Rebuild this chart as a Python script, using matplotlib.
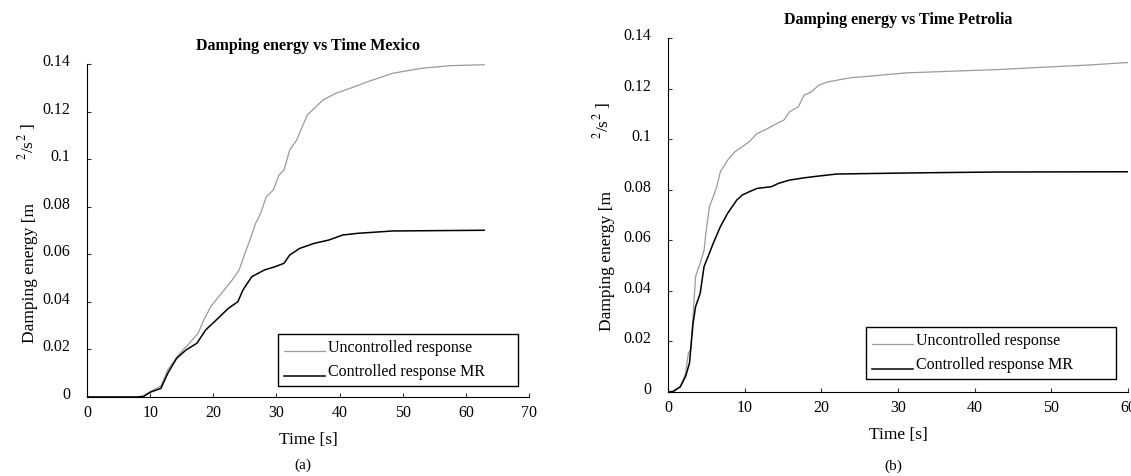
import matplotlib
matplotlib.use("Agg")
import matplotlib.pyplot as plt
import matplotlib.transforms as mtransforms
from matplotlib.legend_handler import HandlerLine2D
import numpy as np

plt.rcParams['font.family'] = ['Liberation Serif', 'DejaVu Serif']
plt.rcParams['mathtext.fontset'] = 'stix'

# Mexico record
t_mex_unc = [0, 5, 8, 9, 10.0, 11.7, 12.8, 14.5, 16.2, 17.6, 18.5, 19.6, 21.3, 23.0, 24.1, 25.0,
             25.8, 26.7, 27.5, 28.4, 29.5, 30.4, 31.2, 32.1, 33.2, 34.0, 34.9, 36.0,
             37.4, 39.4, 41.7, 44.5, 48.4, 53.0, 57.5, 62.9]
e_mex_unc = [0, 0, 0, 0.0004, 0.0022, 0.0046, 0.0114, 0.0177, 0.0226, 0.0268, 0.0324, 0.038,
             0.0436, 0.0492, 0.0534, 0.0604, 0.066, 0.073, 0.0772, 0.0842, 0.087, 0.0933,
             0.0954, 0.1038, 0.108, 0.113, 0.1186, 0.1214, 0.1249, 0.1277, 0.1298, 0.1326,
             0.1361, 0.1382, 0.1393, 0.1397]
t_mex_mr = [0, 5, 8, 9, 10.0, 11.7, 12.8, 14.2, 15.7, 17.4, 18.8, 20.2, 22.4, 23.9, 24.7, 26.1,
            28.1, 29.8, 31.2, 32.1, 33.7, 36.0, 38.3, 40.5, 42.8, 48.4, 62.9]
e_mex_mr = [0, 0, 0, 0.0003, 0.002, 0.0036, 0.010, 0.0163, 0.0198, 0.0226, 0.0282, 0.0317,
            0.0373, 0.0401, 0.045, 0.0506, 0.0534, 0.0548, 0.0562, 0.0597, 0.0625, 0.0646,
            0.066, 0.0681, 0.0688, 0.0698, 0.0701]

# Petrolia record
t_pet_unc = [0, 0.66, 1.6, 2.3, 2.66, 2.94, 3.27, 3.6, 4.2, 4.7, 4.94, 5.4, 5.9, 6.36, 6.83,
             7.78, 8.73, 9.68, 10.6, 11.6, 13.0, 14.2, 15.1, 15.85, 17.0, 17.75, 18.7,
             19.65, 20.8, 22.0, 23.9, 26.3, 31.0, 38.2, 42.9, 50.0, 54.8, 60]
e_pet_unc = [0, 0.0003, 0.0022, 0.0075, 0.0154, 0.0167, 0.030, 0.0457, 0.051, 0.056, 0.0628,
             0.0733, 0.0772, 0.0812, 0.0871, 0.0917, 0.095, 0.097, 0.099, 0.1022, 0.1042,
             0.1062, 0.1075, 0.1108, 0.1128, 0.1174, 0.1187, 0.1213, 0.1226, 0.1233, 0.1243,
             0.1249, 0.1262, 0.127, 0.1275, 0.1286, 0.1293, 0.1303]
t_pet_mr = [0, 0.66, 1.6, 2.3, 2.8, 3.27, 3.6, 4.2, 4.7, 5.4, 5.9, 6.83, 7.78, 8.97, 9.68, 10.6,
            11.6, 13.5, 14.4, 15.85, 17.75, 19.65, 22.0, 26.3, 33.4, 42.9, 60]
e_pet_mr = [0, 0.0002, 0.002, 0.0062, 0.0114, 0.0272, 0.0338, 0.039, 0.0496, 0.0549, 0.0588,
            0.0654, 0.0707, 0.0759, 0.0779, 0.0792, 0.0805, 0.0812, 0.0825, 0.0838, 0.0847,
            0.0854, 0.0862, 0.0864, 0.0867, 0.087, 0.0871]

yticks = [0, 0.02, 0.04, 0.06, 0.08, 0.1, 0.12, 0.14]
ylabels = ['0', '0.02', '0.04', '0.06', '0.08', '0.1', '0.12', '0.14']
legend_labels = ["Uncontrolled response", "Controlled response MR"]

W, H = 1131, 476
fig = plt.figure(figsize=(W / 100, H / 100), dpi=100)


def px(x0, y0, x1, y1):
    # pixel box (top-left origin) -> figure fraction rect
    return [x0 / W, 1 - y1 / H, (x1 - x0) / W, (y1 - y0) / H]


class LowLine(HandlerLine2D):
    # legend line sits on the text baseline, like the original
    def create_artists(self, legend, orig_handle, xdescent, ydescent,
                       width, height, fontsize, trans):
        arts = super().create_artists(legend, orig_handle, xdescent, ydescent,
                                      width, height, fontsize, trans)
        for a in arts:
            a.set_ydata(np.asarray(a.get_ydata()) - 0.32 * fontsize)
        return arts


ax1 = fig.add_axes(px(87, 64, 529, 397))
ax2 = fig.add_axes(px(668, 38, 1128, 392))

panels = [
    (ax1, t_mex_unc, e_mex_unc, t_mex_mr, e_mex_mr, 70, range(0, 71, 10),
     "Damping energy vs Time Mexico", (278, 333, 518, 386)),
    (ax2, t_pet_unc, e_pet_unc, t_pet_mr, e_pet_mr, 60, range(0, 61, 10),
     "Damping energy vs Time Petrolia", (866, 323, 1116, 379)),
]

up = mtransforms.ScaledTranslation(0, 4 / 100, fig.dpi_scale_trans)

for ax, tu, eu, tc, ec, xmax, xt, title, lb in panels:
    l1, = ax.plot(tu, eu, color='#9a9a9a', lw=0.9)
    l2, = ax.plot(tc, ec, color='black', lw=1.1)
    ax.set_xlim(0, xmax)
    ax.set_ylim(0, 0.14)
    ax.set_xticks(list(xt))
    ax.set_yticks(yticks)
    ax.set_yticklabels(ylabels)
    ax.tick_params(direction='in', length=3, labelsize=11.5, color='#333333')
    ax.tick_params(axis='y', pad=12)
    ax.tick_params(axis='x', pad=6)
    for lab in ax.get_yticklabels():
        lab.set_transform(lab.get_transform() + up)
    for s in ['top', 'right']:
        ax.spines[s].set_visible(False)
    ax.set_title(title, fontsize=11.5, fontweight='bold', pad=10)
    ax.set_xlabel("Time [s]", fontsize=12.5, labelpad=8)
    x0, y0, x1, y1 = lb
    leg = ax.legend([l1, l2], legend_labels,
                    loc='lower left', mode='expand',
                    bbox_to_anchor=(x0 / W, 1 - y1 / H, (x1 - x0) / W, (y1 - y0) / H),
                    bbox_transform=fig.transFigure, borderaxespad=0,
                    fontsize=11.5, handlelength=2.6, handletextpad=0.15,
                    labelspacing=0.55, borderpad=0.35, fancybox=False,
                    framealpha=1, handler_map={l1: LowLine(), l2: LowLine()})
    leg.get_frame().set_edgecolor('black')
    leg.get_frame().set_linewidth(1.0)

# y labels split as in the original figure
fig.text(30 / W, 1 - 273 / H, "Damping energy [m", rotation=90, fontsize=12.5,
         ha='center', va='center')
fig.text(27 / W, 1 - 142 / H, r"$^{2}$/s$^{2}$ ]", rotation=90, fontsize=12.5,
         ha='center', va='center')
fig.text(607 / W, 1 - 261 / H, "Damping energy [m", rotation=90, fontsize=12.5,
         ha='center', va='center')
fig.text(602 / W, 1 - 121 / H, r"$^{2}$/s$^{2}$ ]", rotation=90, fontsize=12.5,
         ha='center', va='center')

fig.text(303 / W, 1 - 465 / H, "(a)", fontsize=11, ha='center', va='center')
fig.text(893 / W, 1 - 466 / H, "(b)", fontsize=11, ha='center', va='center')

fig.savefig("out.png", dpi=100)
